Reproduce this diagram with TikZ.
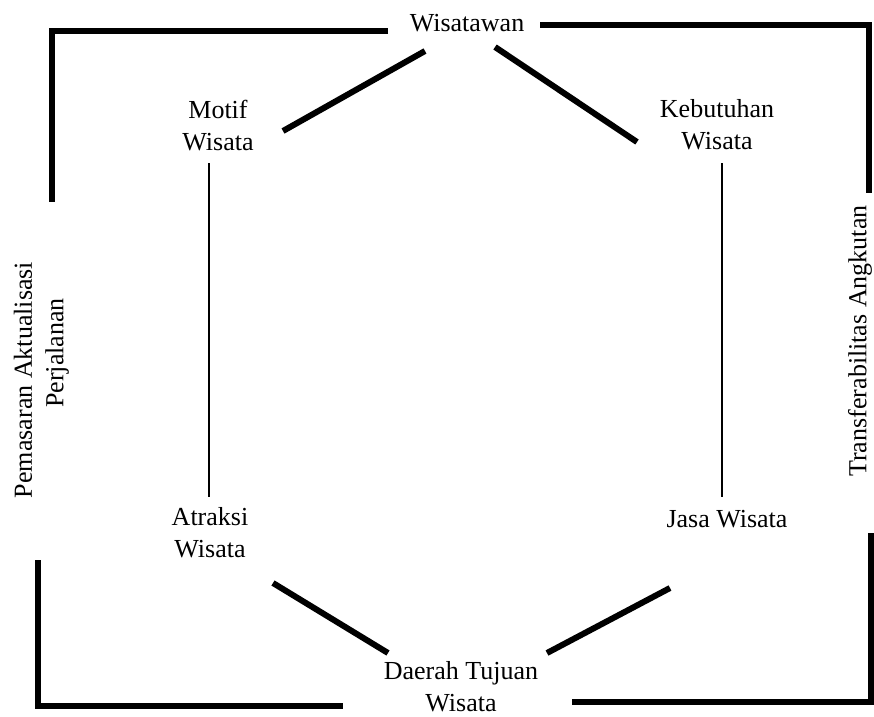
\documentclass[tikz,border=0pt]{standalone}
\usepackage{fontspec}
\setmainfont{Liberation Serif}
\begin{document}
\begin{tikzpicture}[x=0.75pt,y=-0.75pt,
  lbl/.style={inner sep=0pt,align=center,font=\fontsize{19.5}{24}\selectfont},
  thickln/.style={line width=4.5pt},
  thinln/.style={line width=1.6pt}]
\useasboundingbox (0,0) rectangle (874,717);
% labels
\node[lbl] (wis) at (467,23) {Wisatawan};
\node[lbl] (mot) at (218,126) {Motif\\Wisata};
\node[lbl] (keb) at (717,125) {Kebutuhan\\Wisata};
\node[lbl] (atr) at (210,533) {Atraksi\\Wisata};
\node[lbl] (jas) at (727,519) {Jasa Wisata};
\node[lbl] (dae) at (461,687) {Daerah Tujuan\\Wisata};
\node[lbl,rotate=90] (pem) at (23,380) {Pemasaran Aktualisasi};
\node[lbl,rotate=90] (per) at (57,353) {Perjalanan};
\node[lbl,rotate=90] (tra) at (860,341) {Transferabilitas Angkutan};
% connector end points
\coordinate (wm1) at (425,51);  \coordinate (wm2) at (283,131);
\coordinate (wk1) at (495,47);  \coordinate (wk2) at (637,142);
\coordinate (ma1) at (209,163); \coordinate (ma2) at (209,497);
\coordinate (kj1) at (722,163); \coordinate (kj2) at (722,497);
\coordinate (ad1) at (273,583); \coordinate (ad2) at (388,653);
\coordinate (jd1) at (670,588); \coordinate (jd2) at (547,653);
% frame
\coordinate (tl1) at (388,31); \coordinate (tl2) at (52,31); \coordinate (tl3) at (52,202);
\coordinate (tr1) at (540,25); \coordinate (tr2) at (869,25); \coordinate (tr3) at (869,193);
\coordinate (bl1) at (38,560); \coordinate (bl2) at (38,706); \coordinate (bl3) at (343,706);
\coordinate (br1) at (572,702); \coordinate (br2) at (871,702); \coordinate (br3) at (871,533);
% draw
\draw[thickln] (wm1) -- (wm2);
\draw[thickln] (wk1) -- (wk2);
\draw[thinln] (ma1) -- (ma2);
\draw[thinln] (kj1) -- (kj2);
\draw[thickln] (ad1) -- (ad2);
\draw[thickln] (jd1) -- (jd2);
\draw[thickln] (tl1) -- (tl2) -- (tl3);
\draw[thickln] (tr1) -- (tr2) -- (tr3);
\draw[thickln] (bl1) -- (bl2) -- (bl3);
\draw[thickln] (br1) -- (br2) -- (br3);
\end{tikzpicture}
\end{document}
